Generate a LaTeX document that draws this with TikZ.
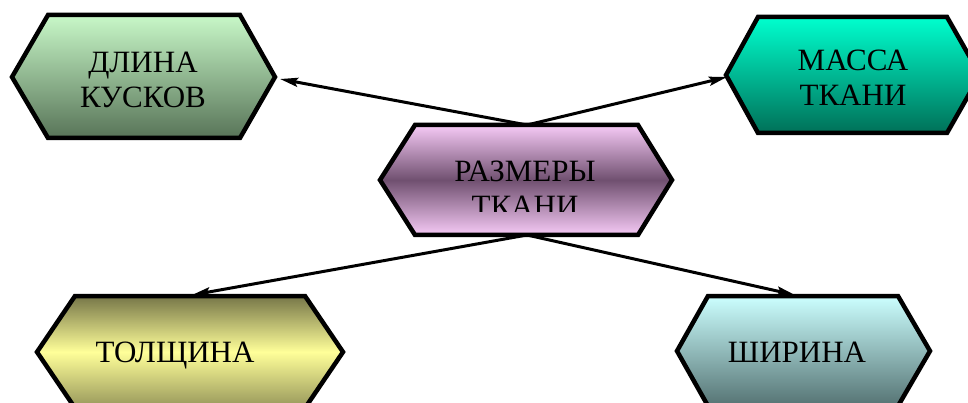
\documentclass[tikz,border=0pt]{standalone}
\usepackage{fontspec}
\setmainfont{Liberation Serif}
\usetikzlibrary{arrows.meta}
\definecolor{gAt}{RGB}{200,248,200}
\definecolor{gAb}{RGB}{88,116,88}
\definecolor{gBe}{RGB}{246,202,246}
\definecolor{gBm}{RGB}{112,80,112}
\definecolor{gCt}{RGB}{0,255,206}
\definecolor{gCb}{RGB}{0,112,88}
\definecolor{gDe}{RGB}{118,118,72}
\definecolor{gDb}{RGB}{150,150,90}
\definecolor{gDm}{RGB}{255,255,153}
\definecolor{gEt}{RGB}{204,255,255}
\definecolor{gEb}{RGB}{85,115,115}
\begin{document}
\begin{tikzpicture}[x=1pt,y=-1pt,
  hexa/.style={draw=black, line width=4.5pt, line join=miter},
  lbl/.style={font=\fontsize{31}{35}\selectfont, align=center, inner sep=0pt, text=black},
  arr/.style={line width=3pt, -{Stealth[length=18pt,width=9pt,inset=3pt]}}
]
\useasboundingbox (0,0) rectangle (968,403);
\clip (0,0) rectangle (968,403);

% connector end points
\coordinate (ctop) at (527,125);
\coordinate (cbot) at (527,235);
\coordinate (e1) at (280,79);
\coordinate (e2) at (727,77);
\coordinate (e3) at (192,295);
\coordinate (e4) at (795,295);

\draw[arr] (ctop) -- (e1);
\draw[arr] (ctop) -- (e2);
\draw[arr] (cbot) -- (e3);
\draw[arr] (cbot) -- (e4);

% hexagons
\path[hexa, top color=gAt, bottom color=gAb]
  (12,77) -- (48,15) -- (240,15) -- (275,77) -- (240,138) -- (48,138) -- cycle;
\path[hexa, top color=gBe, bottom color=gBe, middle color=gBm]
  (380,180) -- (415,125) -- (638,125) -- (672,180) -- (638,235) -- (415,235) -- cycle;
\path[hexa, top color=gCt, bottom color=gCb]
  (726,75) -- (758,17) -- (947,17) -- (980,75) -- (947,133) -- (758,133) -- cycle;
\path[hexa, top color=gDe, bottom color=gDb, middle color=gDm]
  (37,352) -- (75,296) -- (305,296) -- (343,352) -- (305,408) -- (75,408) -- cycle;
\path[hexa, top color=gEt, bottom color=gEb]
  (677,351) -- (708,296) -- (898,296) -- (930,351) -- (898,406) -- (708,406) -- cycle;

% labels
\node[lbl] (dlina) at (143,80) {ДЛИНА\\КУСКОВ};
\node[lbl] (massa) at (853,78) {МАССА\\ТКАНИ};
\begin{scope}
  \clip (380,125) rectangle (672,212);
  \node[lbl] (razm) at (525,189) {РАЗМЕРЫ\\ТКАНИ};
\end{scope}
\node[lbl, anchor=base] (tol) at (175,362) {ТОЛЩИНА};
\node[lbl, anchor=base] (shir) at (797,362) {ШИРИНА};
\end{tikzpicture}
\end{document}
